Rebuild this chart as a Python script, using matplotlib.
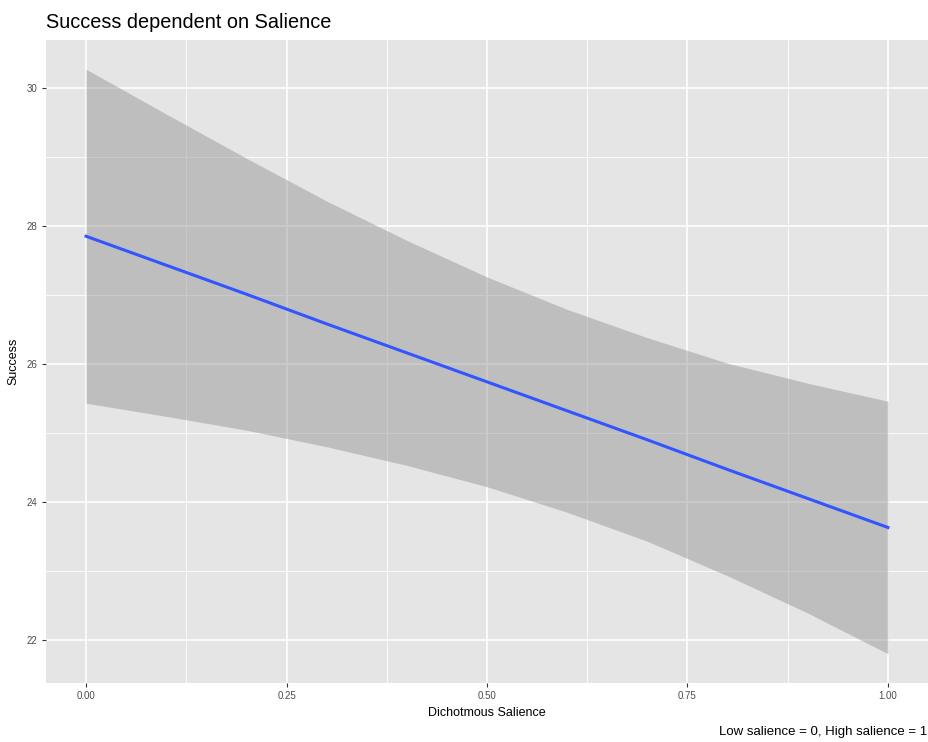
import matplotlib
matplotlib.use("Agg")
import matplotlib.pyplot as plt
import numpy as np

plt.rcParams['font.family'] = ['Liberation Sans', 'DejaVu Sans']

# fitted linear smooth (lm) of Success on salience, with 95% band
salience = [0.0, 0.1, 0.2, 0.3, 0.4, 0.5, 0.6, 0.7, 0.8, 0.9, 1.0]
fit = [27.85, 27.43, 27.01, 26.58, 26.16, 25.74, 25.32, 24.90, 24.47, 24.05, 23.63]
upper = [30.27, 29.62, 28.98, 28.36, 27.79, 27.26, 26.79, 26.38, 26.01, 25.72, 25.46]
lower = [25.43, 25.24, 25.04, 24.80, 24.53, 24.22, 23.85, 23.43, 22.93, 22.39, 21.80]

x_ticks = [0.0, 0.25, 0.5, 0.75, 1.0]
x_tick_labels = ['0.00', '0.25', '0.50', '0.75', '1.00']
y_ticks = [22, 24, 26, 28, 30]

fig = plt.figure(figsize=(9.29, 7.42), dpi=100)
ax = fig.add_axes([46 / 929, 1 - 683 / 742, 882 / 929, 643 / 742])
ax.set_facecolor('#E5E5E5')

# ggplot-like grid
for x in [0.125, 0.375, 0.625, 0.875]:
    ax.axvline(x, color='white', lw=0.6, zorder=0)
for y in [23, 25, 27, 29]:
    ax.axhline(y, color='white', lw=0.6, zorder=0)
for x in x_ticks:
    ax.axvline(x, color='white', lw=1.2, zorder=0)
for y in y_ticks:
    ax.axhline(y, color='white', lw=1.2, zorder=0)

ax.fill_between(salience, lower, upper, color='#999999', alpha=0.5, lw=0, zorder=1)
ax.plot(salience, fit, color='#3355FF', lw=2.2, zorder=2)

ymin, ymax = min(lower), max(upper)
pad = (ymax - ymin) * 0.05
ax.set_ylim(ymin - pad, ymax + pad)
ax.set_xlim(-0.05, 1.05)

ax.set_xticks(x_ticks)
ax.set_xticklabels(x_tick_labels)
ax.set_yticks(y_ticks)
ax.tick_params(axis='both', length=3, width=0.8, color='#333333',
               labelsize=7, labelcolor='#4D4D4D', pad=3)
for s in ax.spines.values():
    s.set_visible(False)

ax.set_xlabel('Dichotmous Salience', fontsize=9, color='black', labelpad=4)
ax.set_ylabel('Success', fontsize=9, color='black', labelpad=5)
ax.set_title('Success dependent on Salience', loc='left', fontsize=14.3,
             color='black', pad=9)
fig.text(927 / 929, 1 - 732 / 742, 'Low salience = 0, High salience = 1',
         ha='right', va='center', fontsize=9.5, color='black')

fig.savefig('out.png', dpi=100, facecolor='white')
